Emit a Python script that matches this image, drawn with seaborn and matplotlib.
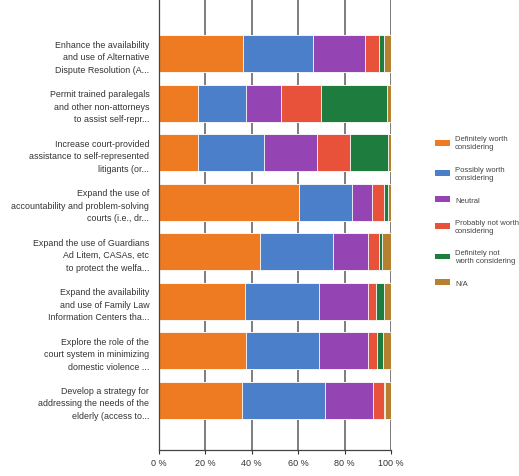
import matplotlib
matplotlib.use("Agg")
import matplotlib.pyplot as plt
import seaborn as sns
import pandas as pd
import numpy as np
from matplotlib.patches import Patch

questions = [
    "Enhance the availability\nand use of Alternative\nDispute Resolution (A...",
    "Permit trained paralegals\nand other non-attorneys\nto assist self-repr...",
    "Increase court-provided\nassistance to self-represented\nlitigants (or...",
    "Expand the use of\naccountability and problem-solving\ncourts (i.e., dr...",
    "Expand the use of Guardians\nAd Litem, CASAs, etc\nto protect the welfa...",
    "Expand the availability\nand use of Family Law\nInformation Centers tha...",
    "Explore the role of the\ncourt system in minimizing\ndomestic violence ...",
    "Develop a strategy for\naddressing the needs of the\nelderly (access to...",
]

responses = [
    "Definitely worth\nconsidering",
    "Possibly worth\nconsidering",
    "Neutral",
    "Probably not worth\nconsidering",
    "Definitely not\nworth considering",
    "N/A",
]

definitely_worth = [36.0, 16.8, 16.8, 60.3, 43.5, 37.0, 37.7, 35.9]
possibly_worth = [30.5, 20.5, 28.6, 22.8, 31.7, 32.1, 31.4, 35.7]
neutral = [22.1, 15.3, 22.6, 8.9, 15.1, 21.2, 21.2, 20.8]
probably_not = [6.4, 17.2, 14.4, 4.8, 4.7, 3.2, 3.6, 4.4]
definitely_not = [1.8, 28.4, 16.1, 1.7, 1.3, 3.3, 2.6, 0.7]
not_applicable = [3.2, 1.8, 1.5, 1.5, 3.7, 3.2, 3.5, 2.5]

series = [definitely_worth, possibly_worth, neutral,
          probably_not, definitely_not, not_applicable]
colors = ["#EE7B22", "#4C7FC9", "#9444B3", "#E8523B", "#1E7D3E", "#B5802F"]

x_ticks = [0, 20, 40, 60, 80, 100]
x_tick_labels = ["0 %", "20 %", "40 %", "60 %", "80 %", "100 %"]

sns.set_theme(style="white")
plt.rcParams["font.family"] = ["Liberation Sans", "DejaVu Sans"]

fig = plt.figure(figsize=(5.19, 4.77), dpi=100)
ax = fig.add_axes([159 / 519, 1 - 450.7 / 477, 232 / 519, 450.7 / 477])

# stacked horizontal bars: draw cumulative totals from the outermost segment inward
cum = np.cumsum(np.array(series), axis=0)
for k in range(len(series) - 1, -1, -1):
    df = pd.DataFrame({"question": questions, "value": cum[k]})
    sns.barplot(data=df, x="value", y="question", orient="h", color=colors[k],
                width=0.75, edgecolor="white", linewidth=0.6, saturation=1,
                ax=ax, zorder=2)

ax.set_xlim(0, 100)
ax.set_ylim(8.0, -1.11)
ax.set_xticks(x_ticks)
ax.set_xticklabels(x_tick_labels, fontsize=6.5, color="#333333")
ax.set_xlabel("")
ax.set_ylabel("")
ax.tick_params(axis="y", labelsize=6.4, labelcolor="#333333", length=6,
               width=0.8, color="#333333", pad=1)
ax.tick_params(axis="x", length=3, width=0.8, color="#333333", pad=3,
               direction="out", bottom=True)
for lab in ax.get_yticklabels():
    lab.set_horizontalalignment("right")
    lab.set_linespacing(1.5)

for x in x_ticks[1:]:
    ax.axvline(x, color="#5a5a5a", linewidth=1.1, zorder=0)

for side in ["top", "right"]:
    ax.spines[side].set_visible(False)
ax.spines["left"].set_color("#444444")
ax.spines["left"].set_linewidth(0.9)
ax.spines["bottom"].set_color("#444444")
ax.spines["bottom"].set_linewidth(0.9)

handles = [Patch(facecolor=c, edgecolor="none") for c in colors]
fig.legend(handles, responses, loc="center left", bbox_to_anchor=(0.825, 0.555),
           frameon=False, fontsize=5.5, handlelength=2.0, handleheight=0.8,
           handletextpad=0.6, labelspacing=2.0, labelcolor="#444444")

fig.savefig("out.png", dpi=100)
